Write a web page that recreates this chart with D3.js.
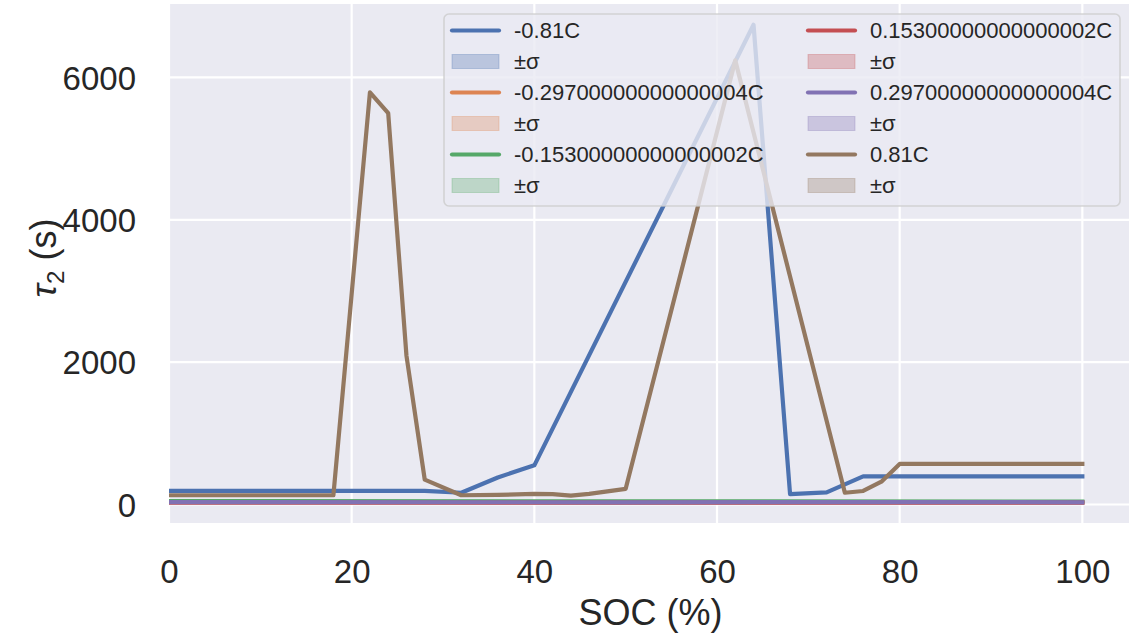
<!DOCTYPE html>
<html>
<head>
<meta charset="utf-8">
<script src="https://cdn.jsdelivr.net/npm/d3@7"></script>
<style>
  html, body { margin: 0; padding: 0; background: #ffffff; }
  svg { display: block; font-family: "Liberation Sans", Arial, sans-serif; }
</style>
</head>
<body>
<svg id="chart" width="1129" height="639"></svg>
<script>
// ---- data ----
const seriesNames = ["-0.81C", "-0.29700000000000004C", "-0.15300000000000002C",
                     "0.15300000000000002C", "0.29700000000000004C", "0.81C"];
const seriesColors = ["#4c72b0", "#dd8452", "#55a868", "#c44e52", "#8172b3", "#937860"];

const socM081 = [0, 28, 32, 36, 40, 64, 68, 72, 76, 80, 100];
const tauM081 = [190, 190, 165, 380, 550, 6740, 145, 170, 395, 395, 395];

const socM0297 = [0, 50, 100];
const tauM0297 = [32, 30, 30];

const socM0153 = [0, 50, 100];
const tauM0153 = [48, 44, 42];

const socP0153 = [0, 50, 100];
const tauP0153 = [27, 26, 27];

const socP0297 = [0, 50, 80, 100];
const tauP0297 = [33, 31, 34, 31];

const socP081 = [0, 18, 22, 24, 26, 28, 32, 36, 40, 42, 44, 46, 50, 62, 74, 76, 78, 80, 100];
const tauP081 = [130, 130, 5790, 5500, 2090, 350, 130, 135, 150, 145, 125, 150, 220, 6240, 165, 190, 320, 570, 570];

const xTicks = [0, 20, 40, 60, 80, 100];
const yTicks = [0, 2000, 4000, 6000];
const xLabel = "SOC (%)";
const sigmaLabel = "±σ";

const allSoc = [socM081, socM0297, socM0153, socP0153, socP0297, socP081];
const allTau = [tauM081, tauM0297, tauM0153, tauP0153, tauP0297, tauP081];

// ---- layout ----
const svg = d3.select("#chart");
const plot = { left: 169, right: 1129, top: 4, bottom: 523 };

const x = d3.scaleLinear().domain([0, 105]).range([plot.left, 1128]);
const y = d3.scaleLinear().domain([-260, 7032]).range([plot.bottom, plot.top]);

// background
svg.append("rect")
  .attr("x", plot.left).attr("y", plot.top)
  .attr("width", plot.right - plot.left).attr("height", plot.bottom - plot.top)
  .attr("fill", "#eaeaf2");

// grid
const grid = svg.append("g");
grid.selectAll("line.vx").data(xTicks).enter().append("line")
  .attr("x1", d => x(d)).attr("x2", d => x(d))
  .attr("y1", plot.top).attr("y2", plot.bottom)
  .attr("stroke", "#ffffff").attr("stroke-width", 2.2);
grid.selectAll("line.hy").data(yTicks).enter().append("line")
  .attr("y1", d => y(d)).attr("y2", d => y(d))
  .attr("x1", plot.left).attr("x2", plot.right)
  .attr("stroke", "#ffffff").attr("stroke-width", 2.2);

// axes (tick labels only, no lines)
const xAxis = d3.axisBottom(x).tickValues(xTicks).tickSize(0).tickPadding(0).tickFormat(d3.format("d"));
const gx = svg.append("g").attr("transform", `translate(0, 583)`).call(xAxis);
gx.select(".domain").remove();
gx.selectAll("text").attr("dy", 0).attr("y", 0)
  .attr("font-size", 33).attr("fill", "#262626")
  .attr("font-family", "Liberation Sans, Arial, sans-serif");

const yAxis = d3.axisLeft(y).tickValues(yTicks).tickSize(0).tickPadding(0).tickFormat(d3.format("d"));
const gy = svg.append("g").attr("transform", `translate(136, 0)`).call(yAxis);
gy.select(".domain").remove();
gy.selectAll("text").attr("x", 0).attr("dy", "0.35em")
  .attr("font-size", 33).attr("fill", "#262626")
  .attr("font-family", "Liberation Sans, Arial, sans-serif");

// axis labels
svg.append("text")
  .attr("x", (plot.left + 1128) / 2 + 2).attr("y", 625)
  .attr("text-anchor", "middle")
  .attr("font-size", 36).attr("fill", "#262626")
  .text(xLabel);

const yl = svg.append("text")
  .attr("transform", "translate(56, 258) rotate(-90)")
  .attr("text-anchor", "middle")
  .attr("font-size", 36).attr("fill", "#262626");
yl.append("tspan").attr("font-style", "italic").text("τ");
yl.append("tspan").attr("font-size", 24).attr("dy", 8).text("2");
yl.append("tspan").attr("dy", -8).text(" (s)");

// lines
const clip = svg.append("clipPath").attr("id", "clip").append("rect")
  .attr("x", plot.left).attr("y", plot.top)
  .attr("width", plot.right - plot.left).attr("height", plot.bottom - plot.top);

const line = d3.line().x(d => x(d[0])).y(d => y(d[1]));
const lines = svg.append("g").attr("clip-path", "url(#clip)");
allSoc.forEach((soc, i) => {
  const pts = soc.map((s, j) => [s, allTau[i][j]]);
  lines.append("path")
    .datum(pts)
    .attr("d", line)
    .attr("fill", "none")
    .attr("stroke", seriesColors[i])
    .attr("stroke-width", 4.2)
    .attr("stroke-linejoin", "round")
    .attr("stroke-linecap", "square");
});

// legend
const lg = svg.append("g");
lg.append("rect")
  .attr("x", 444).attr("y", 14).attr("width", 676).attr("height", 192)
  .attr("rx", 5).attr("ry", 5)
  .attr("fill", "#eaeaf2").attr("fill-opacity", 0.8)
  .attr("stroke", "#cccccc").attr("stroke-opacity", 0.8).attr("stroke-width", 1.6);

const rowY0 = 30.5, rowStep = 31;
const colX = [452, 808];
const textOffset = 62;
seriesNames.forEach((name, i) => {
  const col = i < 3 ? 0 : 1;
  const r = (i % 3) * 2;
  const cx = colX[col];
  const ly = rowY0 + r * rowStep;
  lg.append("line")
    .attr("x1", cx).attr("x2", cx + 47)
    .attr("y1", ly).attr("y2", ly)
    .attr("stroke", seriesColors[i]).attr("stroke-width", 4.2)
    .attr("stroke-linecap", "round");
  lg.append("text")
    .attr("x", cx + textOffset).attr("y", ly).attr("dy", "0.35em")
    .attr("font-size", 22).attr("fill", "#262626")
    .text(name);
  const sy = rowY0 + (r + 1) * rowStep;
  lg.append("rect")
    .attr("x", cx).attr("y", sy - 7).attr("width", 47).attr("height", 14)
    .attr("fill", seriesColors[i]).attr("fill-opacity", 0.3)
    .attr("stroke", seriesColors[i]).attr("stroke-opacity", 0.3).attr("stroke-width", 1);
  lg.append("text")
    .attr("x", cx + textOffset).attr("y", sy).attr("dy", "0.35em")
    .attr("font-size", 22).attr("fill", "#262626")
    .text(sigmaLabel);
});
</script>
</body>
</html>
